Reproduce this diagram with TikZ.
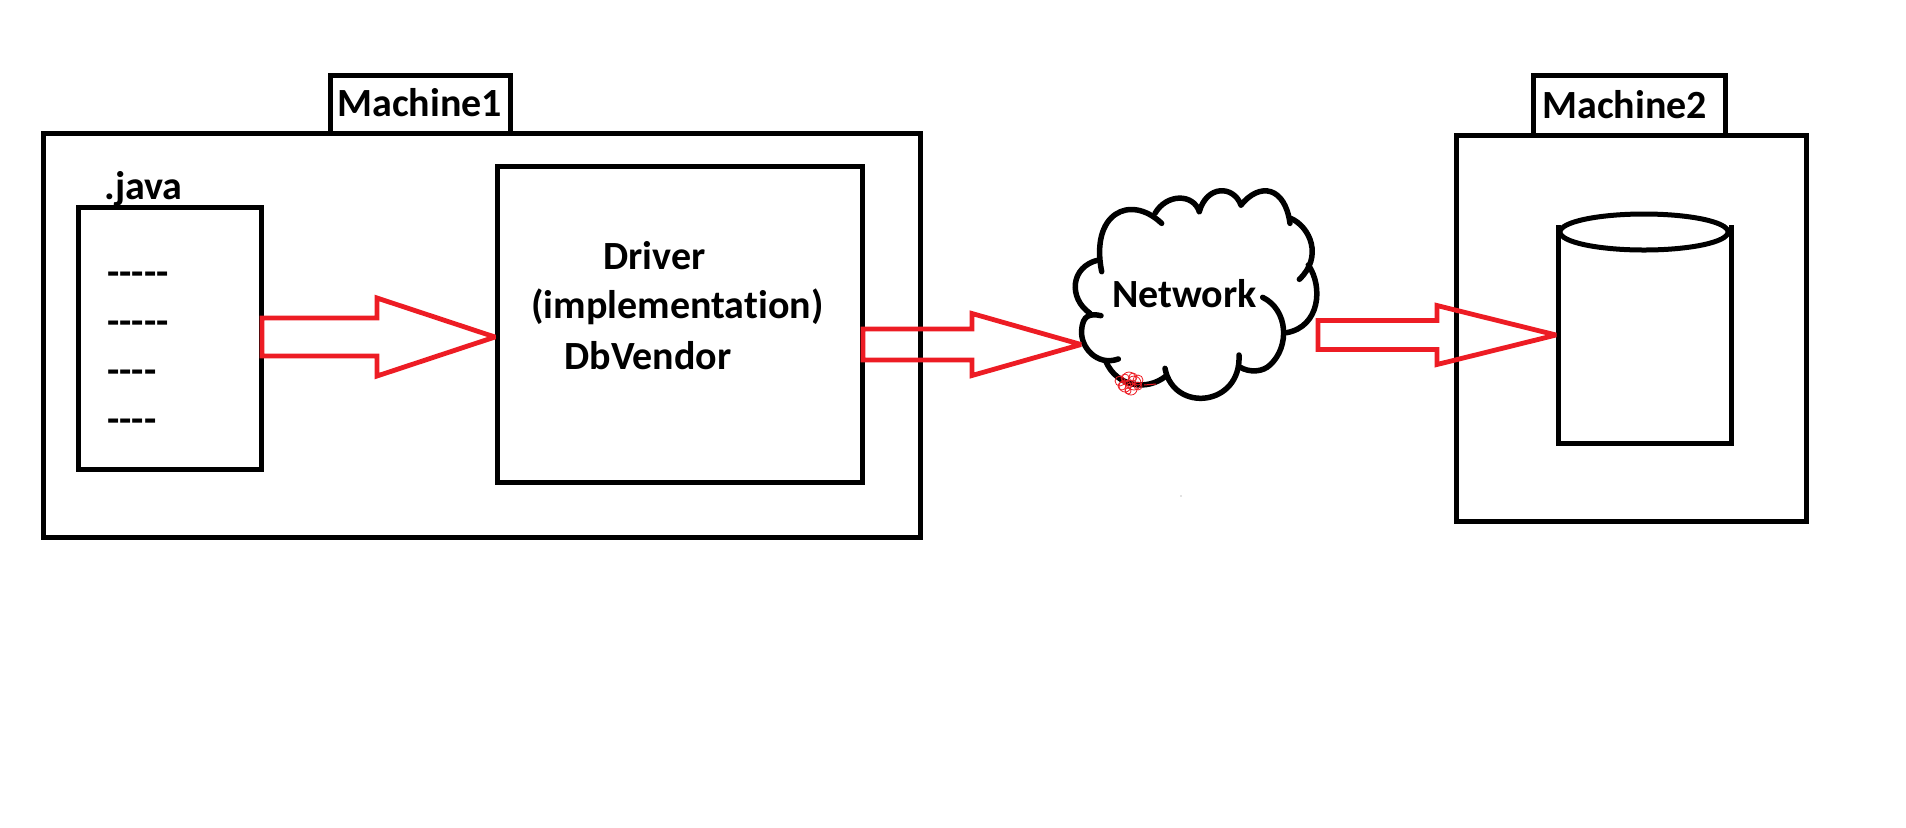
\documentclass[tikz,border=0pt]{standalone}
\usepackage{fontspec}
\setmainfont[Ligatures=NoCommon]{Carlito}
\usetikzlibrary{calc,shapes.geometric}
\definecolor{paintred}{HTML}{ED1C24}
\def\px{0.5pt}
\tikzset{
	boxnode/.style={draw, line width=5*\px, inner sep=0pt, outer sep=0pt},
	labelnode/.style={font=\fontsize{20}{22}\selectfont\bfseries, inner sep=0pt, anchor=base west},
	redarrow/.style={draw=paintred, line width=4.8*\px, miter limit=3},
	cloudline/.style={line width=5.5*\px, line cap=round}
}
% block arrow: tail, tip, half width of shaft, half width of head, length of head
\newcommand{\bigarrow}[5]{
	\draw[redarrow] ($(#1)+(0,-#3)$) -- ($(#2)+(-#5,-#3)$) -- ($(#2)+(-#5,-#4)$) -- (#2)
		-- ($(#2)+(-#5,#4)$) -- ($(#2)+(-#5,#3)$) -- ($(#1)+(0,#3)$) -- cycle;
}
\begin{document}
\begin{tikzpicture}[x=0.5pt, y=-0.5pt]
	\useasboundingbox (0,0) rectangle (1906,827);
	% machine 1
	\node[boxnode, minimum width=877*\px, minimum height=404*\px] (M1) at (481.5,335) {};
	\node[boxnode, minimum width=180*\px, minimum height=58*\px] (T1) at (420.5,104) {};
	\node[labelnode] (L1) at (337,116) {Machine1};
	\node[boxnode, minimum width=183*\px, minimum height=262*\px] (F) at (169.5,338) {};
	\node[labelnode] (J) at (104,199) {.java};
	\node[labelnode] (D1) at (107,285) {-{}-{}-{}-{}-};
	\node[labelnode] (D2) at (107,334) {-{}-{}-{}-{}-};
	\node[labelnode] (D3) at (107,383) {-{}-{}-{}-};
	\node[labelnode] (D4) at (107,432) {-{}-{}-{}-};
	\node[boxnode, minimum width=365*\px, minimum height=316*\px] (V) at (679.5,324) {};
	\node[labelnode] (V1) at (603,269) {Driver};
	\node[labelnode] (V2) at (531,318) {(implementation)};
	\node[labelnode] (V3) at (564,369) {DbVendor};
	% machine 2
	\node[boxnode, minimum width=350*\px, minimum height=386*\px] (M2) at (1631,328) {};
	\node[boxnode, minimum width=192*\px, minimum height=60*\px] (T2) at (1629,105) {};
	\node[labelnode] (L2) at (1542,118) {Machine2};
	\coordinate (C1) at (1558,225);
	\coordinate (C2) at (1731,225);
	\coordinate (C3) at (1558,443);
	\coordinate (C4) at (1731,443);
	\draw[line width=5*\px] (C1) -- (C3) -- (C4) -- (C2);
	\node[boxnode, ellipse, minimum width=168*\px, minimum height=36*\px] (DbTop) at (1644,232) {};
	% network
	\begin{scope}[shift={(1040,170)}, x=0.5pt/3, y=-0.5pt/3]
		\draw[cloudline] (185,305) .. controls (150,130) and (270,70) .. (365,160);
		\draw[cloudline] (345,130) .. controls (380,70) and (460,70) .. (478,125);
		\draw[cloudline] (478,125) .. controls (500,45) and (580,45) .. (603,105);
		\draw[cloudline] (603,105) .. controls (660,35) and (735,50) .. (750,160);
		\draw[cloudline] (752,145) .. controls (810,170) and (850,260) .. (778,328);
		\draw[cloudline] (805,285) .. controls (850,350) and (840,470) .. (740,488);
		\draw[cloudline] (668,382) .. controls (745,420) and (750,530) .. (690,585) .. controls (670,605) and (630,610) .. (597,590);
		\draw[cloudline] (597,555) .. controls (605,710) and (400,730) .. (375,595);
		\draw[cloudline] (378,618) .. controls (320,665) and (230,650) .. (198,575);
		\draw[cloudline] (235,567) .. controls (170,590) and (120,530) .. (125,480) .. controls (128,435) and (150,430) .. (183,437);
		\draw[cloudline] (150,430) .. controls (85,385) and (90,290) .. (175,270);
	\end{scope}
	\node[labelnode] (N) at (1112,307) {Network};
	% scribble on the cloud
	\foreach \cx/\cy/\r in {1120/381/5, 1125/386/6, 1129/379/7, 1134/383/7, 1131/389/6, 1125/378/4, 1138/380/5, 1129/384/4, 1133/377/4, 1122/386/4, 1138/386/4, 1128/391/3}
		\draw[paintred, line width=0.4pt] (\cx,\cy) circle[radius=\r];
	\draw[paintred, line width=0.5pt] (1144,385) -- (1156,384);
	\fill[gray] (1181,496) circle[radius=0.7];
	% arrows
	\coordinate (A1) at (262,337);
	\coordinate (B1) at (495,337);
	\coordinate (A2) at (863,344.5);
	\coordinate (B2) at (1081,344.5);
	\coordinate (A3) at (1318,335);
	\coordinate (B3) at (1556,335);
	\bigarrow{A1}{B1}{19}{39}{118}
	\bigarrow{A2}{B2}{15.5}{31}{109}
	\bigarrow{A3}{B3}{14.5}{29.5}{119}
\end{tikzpicture}
\end{document}
